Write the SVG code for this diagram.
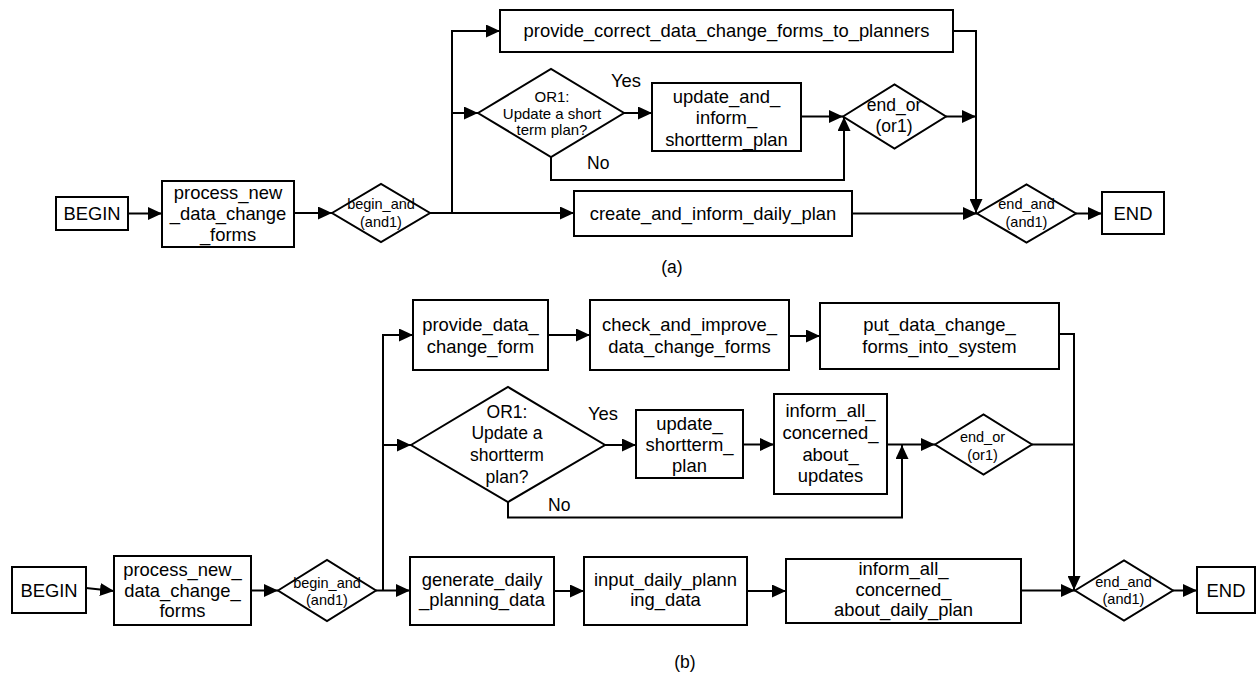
<svg xmlns="http://www.w3.org/2000/svg" width="1256" height="673" viewBox="0 0 1256 673">
  <defs>
    <marker id="arrow" markerUnits="userSpaceOnUse" markerWidth="14" markerHeight="13" refX="14" refY="6.5" orient="auto">
      <path d="M0,0 L14,6.5 L0,13 z" fill="#000"/>
    </marker>
    <style>
      .box { fill: #fff; stroke: #000; stroke-width: 2; }
      .gate { fill: #fff; stroke: #000; stroke-width: 2; stroke-linejoin: miter; }
      .wire { fill: none; stroke: #000; stroke-width: 2; }
      .arr { marker-end: url(#arrow); }
      text { font-family: "Liberation Sans", Arial, sans-serif; fill: #000; text-anchor: middle; }
      .t18 { font-size: 18.4px; }
      .t17 { font-size: 17.5px; }
      .t15 { font-size: 15px; }
      .t14 { font-size: 14.5px; }
      .left { text-anchor: start; }
    </style>
  </defs>
  <rect width="1256" height="673" fill="#fff"/>

  <!-- ===== (a) connectors ===== -->
  <g id="connectors-a">
    <path class="wire arr" d="M128,213.5 H162"/>
    <path class="wire arr" d="M294,213 H332"/>
    <path class="wire arr" d="M429,213 H574"/>
    <path class="wire" d="M452,213 V31"/>
    <path class="wire arr" d="M451,31 H500"/>
    <path class="wire arr" d="M452,113 H478"/>
    <path class="wire arr" d="M624,113 H652"/>
    <path class="wire arr" d="M801,116.5 H843"/>
    <path class="wire arr" d="M551,157 V180 H844 V117"/>
    <path class="wire arr" d="M953,31 H976 V213"/>
    <path class="wire arr" d="M946,116.5 H976"/>
    <path class="wire arr" d="M852,213.5 H977"/>
    <path class="wire arr" d="M1076,213.5 H1102"/>
  </g>

  <!-- ===== (a) nodes ===== -->
  <g id="a-begin">
    <rect class="box" x="56" y="197" width="72" height="33"/>
    <text class="t18" x="92" y="220">BEGIN</text>
  </g>
  <g id="a-process-new">
    <rect class="box" x="162" y="181" width="132" height="66"/>
    <text class="t18" x="228" y="198.5">process_new</text>
    <text class="t18" x="228" y="219.5">_data_change</text>
    <text class="t18" x="228" y="240.5">_forms</text>
  </g>
  <g id="a-begin-and">
    <polygon class="gate" points="332,213 381,184 430,213 381,242"/>
    <text class="t14" x="381" y="209">begin_and</text>
    <text class="t14" x="381" y="227">(and1)</text>
  </g>
  <g id="a-provide-correct">
    <rect class="box" x="500" y="10" width="453" height="42"/>
    <text class="t18" x="726.5" y="37">provide_correct_data_change_forms_to_planners</text>
  </g>
  <g id="a-or1">
    <polygon class="gate" points="478,113 551,69 624,113 551,157"/>
    <text class="t15" x="552" y="102">OR1:</text>
    <text class="t15" x="552" y="118.5">Update a short</text>
    <text class="t15" x="552" y="134.5">term plan?</text>
    <text class="t18 left" x="611" y="87">Yes</text>
    <text class="t17 left" x="587" y="169">No</text>
  </g>
  <g id="a-update-inform">
    <rect class="box" x="652" y="83" width="149" height="68"/>
    <text class="t18" x="726.5" y="102.5">update_and_</text>
    <text class="t18" x="726.5" y="124">inform_</text>
    <text class="t18" x="726.5" y="145.5">shortterm_plan</text>
  </g>
  <g id="a-end-or">
    <polygon class="gate" points="843,116.5 894.5,84.5 946,116.5 894.5,148.5"/>
    <text class="t17" x="894" y="111">end_or</text>
    <text class="t17" x="894" y="132">(or1)</text>
  </g>
  <g id="a-create-daily">
    <rect class="box" x="574" y="191" width="278" height="45"/>
    <text class="t18" x="713" y="219.5">create_and_inform_daily_plan</text>
  </g>
  <g id="a-end-and">
    <polygon class="gate" points="977,213.5 1026.5,184.5 1076,213.5 1026.5,242.5"/>
    <text class="t14" x="1026.5" y="209">end_and</text>
    <text class="t14" x="1026.5" y="227">(and1)</text>
  </g>
  <g id="a-end">
    <rect class="box" x="1102" y="192" width="62" height="42"/>
    <text class="t18" x="1133" y="219.5">END</text>
  </g>
  <text class="t17" x="672" y="272.5">(a)</text>

  <!-- ===== (b) connectors ===== -->
  <g id="connectors-b">
    <path class="wire arr" d="M86,588 L114,591"/>
    <path class="wire arr" d="M251,590.5 H278"/>
    <path class="wire arr" d="M376,590.5 H410"/>
    <path class="wire" d="M383,590.5 V335"/>
    <path class="wire arr" d="M382,335 H413"/>
    <path class="wire arr" d="M383,445 H411"/>
    <path class="wire arr" d="M548,335 H590"/>
    <path class="wire arr" d="M789,336 H820"/>
    <path class="wire arr" d="M1059,334 H1074 V590"/>
    <path class="wire arr" d="M605,445 H636"/>
    <path class="wire arr" d="M743,444.5 H774"/>
    <path class="wire arr" d="M887,444.5 H935"/>
    <path class="wire arr" d="M508,502 V517.5 H902 V445"/>
    <path class="wire" d="M1032,444.5 H1074"/>
    <path class="wire arr" d="M554,591 H584"/>
    <path class="wire arr" d="M747,591 H786"/>
    <path class="wire arr" d="M1021,590.5 H1075"/>
    <path class="wire arr" d="M1173,590.5 H1197"/>
  </g>

  <!-- ===== (b) nodes ===== -->
  <g id="b-begin">
    <rect class="box" x="12" y="567" width="74" height="46"/>
    <text class="t18" x="49" y="596.5">BEGIN</text>
  </g>
  <g id="b-process-new">
    <rect class="box" x="114" y="556" width="137" height="69"/>
    <text class="t18" x="182.5" y="576">process_new_</text>
    <text class="t18" x="182.5" y="596.5">data_change_</text>
    <text class="t18" x="182.5" y="617">forms</text>
  </g>
  <g id="b-begin-and">
    <polygon class="gate" points="278,590.5 327,560 376,590.5 327,621"/>
    <text class="t14" x="327" y="587.5">begin_and</text>
    <text class="t14" x="327" y="604.5">(and1)</text>
  </g>
  <g id="b-provide-data">
    <rect class="box" x="413" y="300" width="135" height="70"/>
    <text class="t18" x="480.5" y="331">provide_data_</text>
    <text class="t18" x="480.5" y="353">change_form</text>
  </g>
  <g id="b-check-improve">
    <rect class="box" x="590" y="300" width="199" height="70"/>
    <text class="t18" x="689.5" y="331">check_and_improve_</text>
    <text class="t18" x="689.5" y="353">data_change_forms</text>
  </g>
  <g id="b-put-data">
    <rect class="box" x="820" y="303" width="239" height="66"/>
    <text class="t18" x="939.5" y="331">put_data_change_</text>
    <text class="t18" x="939.5" y="353">forms_into_system</text>
  </g>
  <g id="b-or1">
    <polygon class="gate" points="411,445 508,387 605,445 508,502"/>
    <text class="t17" x="507" y="417.5">OR1:</text>
    <text class="t17" x="507" y="439">Update a</text>
    <text class="t17" x="507" y="461">shortterm</text>
    <text class="t17" x="507" y="483">plan?</text>
    <text class="t18 left" x="588" y="420">Yes</text>
    <text class="t17 left" x="548" y="511">No</text>
  </g>
  <g id="b-update-shortterm">
    <rect class="box" x="636" y="410" width="107" height="68"/>
    <text class="t18" x="689.5" y="430">update_</text>
    <text class="t18" x="689.5" y="450.5">shortterm_</text>
    <text class="t18" x="689.5" y="472">plan</text>
  </g>
  <g id="b-inform-updates">
    <rect class="box" x="774" y="394" width="113" height="100"/>
    <text class="t18" x="830.5" y="417">inform_all_</text>
    <text class="t18" x="830.5" y="439">concerned_</text>
    <text class="t18" x="830.5" y="460.5">about_</text>
    <text class="t18" x="830.5" y="482">updates</text>
  </g>
  <g id="b-end-or">
    <polygon class="gate" points="935,444.5 983.5,414.5 1032,444.5 983.5,474.5"/>
    <text class="t14" x="982.5" y="441.5">end_or</text>
    <text class="t14" x="982.5" y="460">(or1)</text>
  </g>
  <g id="b-generate-daily">
    <rect class="box" x="410" y="557" width="144" height="68"/>
    <text class="t18" x="482" y="585.5">generate_daily</text>
    <text class="t18" x="482" y="605.5">_planning_data</text>
  </g>
  <g id="b-input-daily">
    <rect class="box" x="584" y="557" width="163" height="68"/>
    <text class="t18" x="665.5" y="585.5">input_daily_plann</text>
    <text class="t18" x="665.5" y="605.5">ing_data</text>
  </g>
  <g id="b-inform-daily">
    <rect class="box" x="786" y="559" width="235" height="64"/>
    <text class="t18" x="903.5" y="575">inform_all_</text>
    <text class="t18" x="903.5" y="595.5">concerned_</text>
    <text class="t18" x="903.5" y="616">about_daily_plan</text>
  </g>
  <g id="b-end-and">
    <polygon class="gate" points="1075,590.5 1124,560.5 1173,590.5 1124,620.5"/>
    <text class="t14" x="1123.5" y="586.5">end_and</text>
    <text class="t14" x="1123.5" y="603.5">(and1)</text>
  </g>
  <g id="b-end">
    <rect class="box" x="1197" y="567" width="58" height="46"/>
    <text class="t18" x="1226" y="596.5">END</text>
  </g>
  <text class="t17" x="685" y="667.5">(b)</text>
</svg>
